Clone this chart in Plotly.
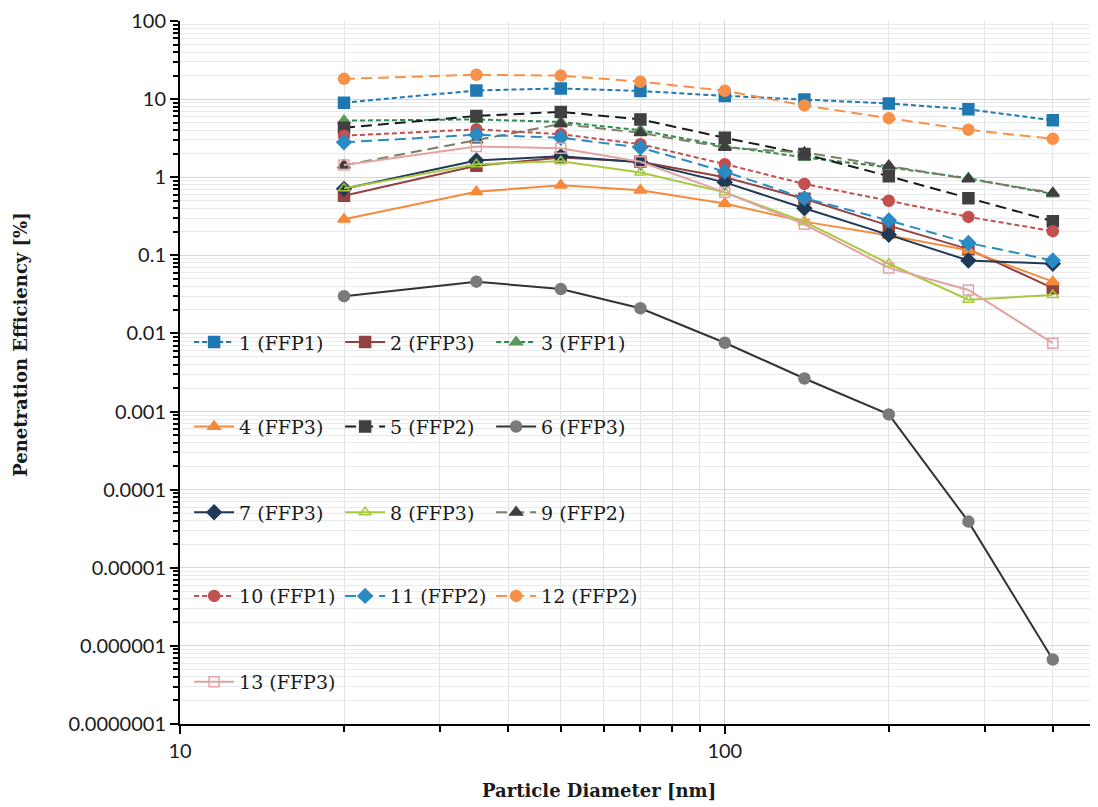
import plotly.graph_objects as go

# particle diameters [nm]
diameters = [20, 35, 50, 70, 100, 140, 200, 280, 400]

# penetration efficiency [%] per mask
s1 = [9.0, 12.9, 13.7, 12.7, 11.0, 9.9, 8.8, 7.4, 5.35]
s2 = [0.58, 1.40, 1.79, 1.58, 1.0, 0.53, 0.24, 0.12, 0.038]
s3 = [5.3, 5.5, 5.1, 4.0, 2.5, 1.79, 1.34, 0.97, 0.61]
s4 = [0.29, 0.65, 0.79, 0.68, 0.46, 0.27, 0.18, 0.116, 0.046]
s5 = [4.3, 6.1, 6.85, 5.5, 3.2, 1.98, 1.03, 0.54, 0.274]
s6 = [0.030, 0.046, 0.037, 0.021, 0.0076, 0.00265, 0.00092, 0.000039, 0.00000067]
s7 = [0.71, 1.64, 1.85, 1.55, 0.86, 0.40, 0.183, 0.086, 0.078]
s8 = [0.72, 1.47, 1.6, 1.15, 0.64, 0.27, 0.078, 0.027, 0.031]
s9 = [1.42, 3.0, 4.8, 3.7, 2.4, 2.07, 1.4, 0.95, 0.63]
s10 = [3.4, 4.1, 3.55, 2.65, 1.47, 0.82, 0.50, 0.31, 0.204]
s11 = [2.8, 3.5, 3.2, 2.4, 1.18, 0.54, 0.28, 0.144, 0.086]
s12 = [18.2, 20.5, 20.0, 16.7, 12.8, 8.3, 5.7, 4.05, 3.1]
s13 = [1.43, 2.48, 2.35, 1.58, 0.64, 0.25, 0.069, 0.036, 0.0075]

names = ["1 (FFP1)", "2 (FFP3)", "3 (FFP1)", "4 (FFP3)", "5 (FFP2)", "6 (FFP3)",
         "7 (FFP3)", "8 (FFP3)", "9 (FFP2)", "10 (FFP1)", "11 (FFP2)", "12 (FFP2)",
         "13 (FFP3)"]
values = [s1, s2, s3, s4, s5, s6, s7, s8, s9, s10, s11, s12, s13]

y_ticks = [100, 10, 1, 0.1, 0.01, 0.001, 0.0001, 0.00001, 0.000001, 0.0000001]
y_labels = ["100", "10", "1", "0.1", "0.01", "0.001", "0.0001", "0.00001",
            "0.000001", "0.0000001"]
x_ticks = [10, 100]
x_minor = [20, 30, 40, 50, 60, 70, 80, 90, 200, 300, 400]
y_minor = [m * 10.0 ** e for e in range(-7, 2) for m in range(2, 10)]

SHORT = "5px,3px"
LONG = "11px,6px"

# (line colour, dash, marker symbol, marker colour)
styles = [
    ("#1f78b0", SHORT, "square", "#1f78b0"),
    ("#94423f", "solid", "square", "#94423f"),
    ("#2f8a4e", SHORT, "triangle-up", "#5a9a5c"),
    ("#f58a3a", "solid", "triangle-up", "#f58a3a"),
    ("#1a1a1a", LONG, "square", "#404040"),
    ("#333333", "solid", "circle", "#7a7a7a"),
    ("#1f3a56", "solid", "diamond", "#1f3a56"),
    ("#a9c93e", "solid", "triangle-up-open", "#a9c93e"),
    ("#7e7e68", LONG, "triangle-up", "#3f3f3f"),
    ("#c2504e", SHORT, "circle", "#c2504e"),
    ("#2a8ac4", LONG, "diamond", "#2a8ac4"),
    ("#f7914a", LONG, "circle", "#f7914a"),
    ("#e3a3a3", "solid", "square-open", "#e3a3a3"),
]

legend_ids = ["legend"] * 3 + ["legend2"] * 3 + ["legend3"] * 3 + ["legend4"] * 3 + ["legend5"]

fig = go.Figure()
for name, vals, (lc, dash, sym, mc), lg in zip(names, values, styles, legend_ids):
    fig.add_trace(go.Scatter(
        x=diameters, y=vals, mode="lines+markers", name=name, legend=lg,
        line=dict(color=lc, width=2, dash=dash),
        marker=dict(symbol=sym, size=11 if "open" not in sym else 10,
                    color=mc, line=dict(color=mc, width=1.5)),
    ))

legend_style = dict(
    orientation="h", xanchor="left", yanchor="middle", x=0.01,
    entrywidth=96, entrywidthmode="pixels", itemwidth=40,
    bgcolor="rgba(0,0,0,0)", borderwidth=0,
    font=dict(family="DejaVu Serif", size=19, color="#1a1a1a"),
)
legend_rows = [0.543, 0.423, 0.301, 0.182, 0.060]

title_font = dict(family="DejaVu Serif", size=18, color="#1a1a1a")

# the page body adds an 8px margin, so the figure is 8px smaller on each side
fig.update_layout(
    width=1090, height=799,
    paper_bgcolor="white", plot_bgcolor="white",
    margin=dict(l=172, r=6, t=13, b=83),
    font=dict(family="Lato", size=20, color="#1a1a1a"),
    legend=dict(legend_style, y=legend_rows[0]),
    legend2=dict(legend_style, y=legend_rows[1]),
    legend3=dict(legend_style, y=legend_rows[2]),
    legend4=dict(legend_style, y=legend_rows[3]),
    legend5=dict(legend_style, y=legend_rows[4]),
    annotations=[
        dict(text="<b>Particle Diameter [nm]</b>", xref="paper", yref="paper",
             x=0.459, y=-0.094, xanchor="center", yanchor="middle",
             showarrow=False, font=title_font),
        dict(text="<b>Penetration Efficiency [%]</b>", xref="paper", yref="paper",
             x=-0.175, y=0.54, xanchor="center", yanchor="middle",
             textangle=-90, showarrow=False, font=title_font),
    ],
)

fig.update_xaxes(
    type="log", range=[1, 2.674], automargin=False, ticklabeloverflow="allow",
    tickvals=x_ticks, ticktext=["10", "100"],
    ticks="outside", ticklen=8, tickwidth=2, tickcolor="black",
    showline=True, linecolor="black", linewidth=2,
    showgrid=True, gridcolor="#cfd3dc", gridwidth=1,
    minor=dict(tickvals=x_minor, ticks="outside", ticklen=6, tickwidth=2,
               tickcolor="black", showgrid=True, gridcolor="#dfe2e8"),
    zeroline=False,
)

fig.update_yaxes(
    type="log", range=[-7, 2], automargin=False, ticklabeloverflow="allow",
    tickvals=y_ticks, ticktext=y_labels,
    ticks="outside", ticklen=8, tickwidth=2, tickcolor="black",
    showline=True, linecolor="black", linewidth=2,
    showgrid=True, gridcolor="#d4d7de", gridwidth=1,
    minor=dict(tickvals=y_minor, ticks="outside", ticklen=5, tickwidth=1.5,
               tickcolor="black", showgrid=True, gridcolor="#e8eaee"),
    zeroline=False,
)

fig.write_html("out.html")
